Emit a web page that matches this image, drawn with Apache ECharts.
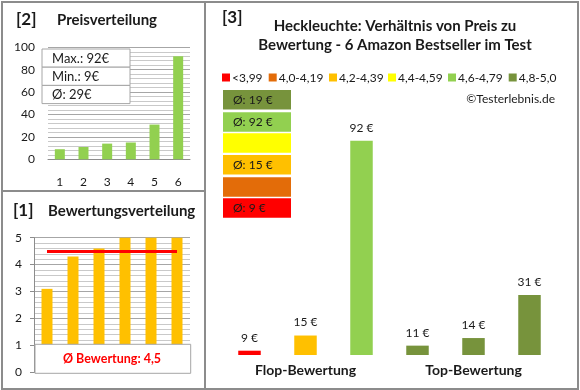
<!DOCTYPE html>
<html><head><meta charset="utf-8">
<script src="https://cdn.jsdelivr.net/npm/echarts@6/dist/echarts.min.js"></script>
<style>html,body{margin:0;padding:0;background:#fff}#c{width:580px;height:390px}</style>
</head><body><div id="c"></div>
<script>
// ---- data ----
var priceCats = ['1','2','3','4','5','6'];
var priceVals = [9, 11, 14, 15, 31, 92];
var priceTicks = [0, 20, 40, 60, 80, 100];
var ratingVals = [3.1, 4.3, 4.6, 5.0, 5.0, 5.0];
var ratingAvg = 4.5;
var priceInfo = ['Max.: 92€', 'Min.: 9€', 'Ø: 29€'];
var rightVals = [9, 15, 92, 11, 14, 31];
var rightClass = [0, 2, 4, 5, 5, 5];
var groupLabels = ['', 'Flop-Bewertung', '', '', 'Top-Bewertung', ''];
var classNames = ['<3,99', '4,0-4,19', '4,2-4,39', '4,4-4,59', '4,6-4,79', '4,8-5,0'];
var classColors = ['#FF0000', '#E36C09', '#FFC000', '#FFFF00', '#92D050', '#77933C'];
var classAvgLabels = ['Ø: 9 €', '', 'Ø: 15 €', '', 'Ø: 92 €', 'Ø: 19 €'];

var F = 'Lato, "Open Sans", sans-serif';
var TXT = '#1a1a1a';
var chart = echarts.init(document.getElementById('c'));

var graphic = [];
// frame
graphic.push({type:'rect', shape:{x:2,y:2,width:576,height:387}, style:{fill:'none', stroke:'#8c8c8c', lineWidth:2}, z:100});
graphic.push({type:'line', shape:{x1:205,y1:2,x2:205,y2:389}, style:{stroke:'#8c8c8c', lineWidth:2}, z:100});
graphic.push({type:'line', shape:{x1:2,y1:191,x2:205,y2:191}, style:{stroke:'#8c8c8c', lineWidth:2}, z:100});
// titles
function txt(x,y,t,size,bold,color,align){
  return {type:'text', x:x, y:y, z:100, style:{text:t, font:(bold?'bold ':'')+size+'px '+F, fill:color||TXT, textAlign:align||'left', textVerticalAlign:'middle'}};
}
graphic.push(txt(16,20,'[2]',17,true));
graphic.push(txt(57,20,'Preisverteilung',15,true));
graphic.push(txt(13,211,'[1]',17,true));
graphic.push(txt(48,211,'Bewertungsverteilung',15,true));
graphic.push(txt(222,18,'[3]',17,true));
graphic.push(txt(395,26,'Heckleuchte: Verhältnis von Preis zu',15,true,TXT,'center'));
graphic.push(txt(395,45,'Bewertung - 6 Amazon Bestseller im Test',15,true,TXT,'center'));
// legend
var legX = [225, 271.7, 332, 391, 451, 511.7];
for (var i=0;i<classNames.length;i++){
  graphic.push({type:'rect', z:100, shape:{x:legX[i]-3, y:73.5, width:8, height:8}, style:{fill:classColors[i]}});
  graphic.push(txt(legX[i]+7, 78, classNames[i], 12, false));
}
graphic.push(txt(555,99,'©Testerlebnis.de',12,false,TXT,'right'));
// class average boxes (top = best class)
var boxTops = [90, 112.3, 133.3, 155, 177.3, 198.3];
for (var j=0;j<6;j++){
  var ci = 5-j;
  graphic.push({type:'rect', z:100, shape:{x:223, y:boxTops[j], width:68, height:19.5}, style:{fill:classColors[ci]}});
  if (classAvgLabels[ci]) graphic.push(txt(233, boxTops[j]+10, classAvgLabels[ci], 12, false));
}
// price info box
for (var k=0;k<priceInfo.length;k++){
  graphic.push({type:'rect', z:100, shape:{x:42, y:49+k*18.2, width:88, height:18.2}, style:{fill:'#fff', stroke:'#a6a6a6', lineWidth:1}});
  graphic.push(txt(52, 49+k*18.2+9.5, priceInfo[k], 13, false));
}
// rating avg box
graphic.push({type:'rect', z:100, shape:{x:35, y:344.3, width:155.7, height:29}, style:{fill:'#fff', stroke:'#a6a6a6', lineWidth:1}});
graphic.push(txt(112, 359, 'Ø Bewertung: ' + String(ratingAvg).replace('.', ','), 12.5, true, '#FF0000', 'center'));

var gridLine = {show:true, lineStyle:{color:'#a6a6a6', width:1}};
var minorLine = {show:true, lineStyle:{color:'#c9c9c9', width:1}};

chart.setOption({
  animation:false,
  textStyle:{fontFamily:F},
  grid:[
    {left:48, top:47.3, width:142, height:112},
    {left:34, top:237.7, width:156, height:134.6},
    {left:221.5, top:120.5, width:336, height:234.5}
  ],
  xAxis:[
    {gridIndex:0, type:'category', data:priceCats, axisTick:{show:false},
     axisLine:{lineStyle:{color:'#8c8c8c'}}, axisLabel:{color:TXT, fontSize:12, margin:17}},
    {gridIndex:1, type:'category', data:priceCats, axisTick:{show:false}, axisLine:{show:false}, axisLabel:{show:false}},
    {gridIndex:2, type:'category', data:groupLabels, axisTick:{show:false}, axisLine:{show:false},
     axisLabel:{interval:0, color:TXT, fontSize:14, fontWeight:'bold', margin:8}}
  ],
  yAxis:[
    {gridIndex:0, type:'value', min:priceTicks[0], max:priceTicks[priceTicks.length-1], interval:20,
     axisLine:{show:false}, axisTick:{show:false}, axisLabel:{color:TXT, fontSize:12, margin:13},
     splitLine:gridLine, minorTick:{show:false, splitNumber:5}, minorSplitLine:minorLine},
    {gridIndex:1, type:'value', min:0, max:5, interval:1,
     axisLine:{show:true, lineStyle:{color:'#8c8c8c'}}, axisTick:{show:true, length:4, lineStyle:{color:'#8c8c8c'}},
     axisLabel:{color:TXT, fontSize:12, margin:12},
     splitLine:gridLine, minorTick:{show:false, splitNumber:5}, minorSplitLine:minorLine},
    {gridIndex:2, type:'value', min:7.3, max:100, show:false, splitLine:{show:false}}
  ],
  series:[
    {type:'bar', xAxisIndex:0, yAxisIndex:0, data:priceVals, barWidth:10, itemStyle:{color:'#92D050'}},
    {type:'bar', xAxisIndex:1, yAxisIndex:1, data:ratingVals, barWidth:11, itemStyle:{color:'#FFC000'},
     markLine:{symbol:'none', silent:true, label:{show:false},
       lineStyle:{color:'#FF0000', width:3, type:'solid'},
       data:[[{coord:[0, ratingAvg]}, {coord:[5, ratingAvg]}]]}},
    {type:'bar', xAxisIndex:2, yAxisIndex:2, barWidth:22.5,
     data:rightVals.map(function(v,i){return {value:v, itemStyle:{color:classColors[rightClass[i]]}};}),
     label:{show:true, position:'top', distance:7, formatter:'{c} €', color:TXT, fontSize:12}}
  ],
  graphic:graphic
});
</script></body></html>
